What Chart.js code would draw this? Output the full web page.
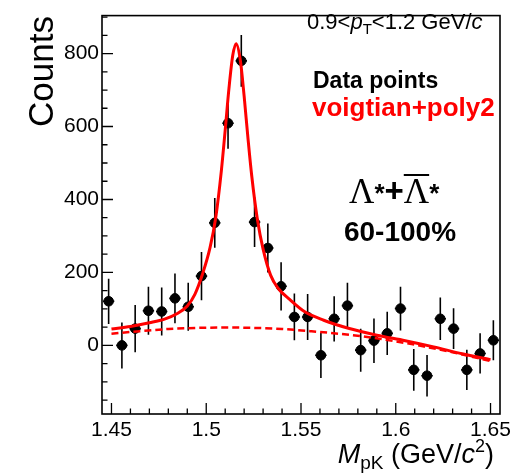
<!DOCTYPE html>
<html>
<head>
<meta charset="utf-8">
<script src="https://cdn.jsdelivr.net/npm/chart.js@4.4.1/dist/chart.umd.min.js"></script>
<style>
  html, body { margin: 0; padding: 0; background: #fff; }
  #wrap { width: 529px; height: 476px; }
</style>
</head>
<body>
<div id="wrap"><canvas id="massChart" width="529" height="476"></canvas></div>
<script>
// pK invariant mass histogram, bin centres in GeV/c^2
const binCenters = [1.4485, 1.4555, 1.4625, 1.4695, 1.4765, 1.4835, 1.4905, 1.4975, 1.5045, 1.5115,
                    1.5185, 1.5255, 1.5325, 1.5395, 1.5465, 1.5535, 1.5605, 1.5675, 1.5745, 1.5815,
                    1.5885, 1.5955, 1.6025, 1.6095, 1.6165, 1.6235, 1.6305, 1.6375, 1.6445, 1.6515];
const counts = [121, 0, 46, 95, 93, 129, 106, 190, 336, 609,
                780, 338, 267, 162, 78, 78, -27, 73, 109, -13,
                13, 33, 101, -67, -83, 73, 46, -67, -22, 14];
const countErr = [62, 63, 65, 66, 66, 68, 66, 66, 68, 70,
                  71, 68, 67, 66, 64, 63, 62, 62, 63, 59,
                  61, 59, 60, 57, 57, 58, 56, 55, 55, 55];
const binHalfWidth = 0.003;

// total fit (voigtian + poly2)
const fitX = [1.450, 1.460, 1.470, 1.478, 1.485, 1.490, 1.494, 1.498, 1.502, 1.505,
              1.508, 1.510, 1.512, 1.514, 1.5158, 1.518, 1.520, 1.522, 1.524, 1.527,
              1.530, 1.534, 1.538, 1.544, 1.552, 1.562, 1.575, 1.590, 1.605, 1.620,
              1.635, 1.650];
const fitY = [45, 52, 62, 72, 88, 108, 140, 195, 268, 350,
              480, 590, 705, 795, 827, 781, 683, 569, 465, 345,
              264, 192, 156, 126, 92, 69, 47, 28, 13, -4,
              -23, -39];

// residual background (poly2 part)
const bgX = [1.450, 1.465, 1.480, 1.495, 1.510, 1.525, 1.540, 1.555, 1.570, 1.585, 1.600, 1.615, 1.630, 1.650];
const bgY = [32, 39, 45, 48, 49, 48, 45, 39, 32, 23, 11, -3, -19, -43];

const xMajor = [1.45, 1.5, 1.55, 1.6, 1.65];
const yMajor = [0, 200, 400, 600, 800];

const pairs = (xs, ys) => xs.map((v, i) => ({ x: v, y: ys[i] }));

const SANS = '"Liberation Sans", Arial, Helvetica, sans-serif';
const SERIF = '"Liberation Serif", "Times New Roman", serif';

// vertical + small horizontal error bars under the markers
const errorBars = {
  id: 'errorBars',
  beforeDatasetsDraw(chart) {
    const { ctx, chartArea: a, scales: { x, y } } = chart;
    ctx.save();
    ctx.beginPath();
    ctx.rect(a.left, a.top, a.width, a.height);
    ctx.clip();
    ctx.strokeStyle = '#000';
    ctx.lineWidth = 1.6;
    binCenters.forEach((m, i) => {
      const px = x.getPixelForValue(m);
      const py = y.getPixelForValue(counts[i]);
      ctx.beginPath();
      ctx.moveTo(px, y.getPixelForValue(counts[i] - countErr[i]));
      ctx.lineTo(px, y.getPixelForValue(counts[i] + countErr[i]));
      ctx.moveTo(x.getPixelForValue(m - binHalfWidth), py);
      ctx.lineTo(x.getPixelForValue(m + binHalfWidth), py);
      ctx.stroke();
    });
    ctx.restore();
  }
};

// draws a run of text pieces left to right, returns end x
function drawRuns(ctx, x, y, runs, measureOnly) {
  let cx = x;
  runs.forEach(r => {
    ctx.font = r.font;
    if (!measureOnly) ctx.fillText(r.t, cx, y + (r.dy || 0));
    cx += ctx.measureText(r.t).width + (r.kern || 0);
  });
  return cx;
}

// frame, inward ticks and the annotations
const frameAndText = {
  id: 'frameAndText',
  afterDraw(chart) {
    const { ctx, chartArea: a, scales: { x, y } } = chart;
    ctx.save();
    ctx.strokeStyle = '#000';
    ctx.lineWidth = 1.6;
    ctx.strokeRect(a.left, a.top, a.width, a.height);

    ctx.lineWidth = 1.3;
    ctx.beginPath();
    for (let v = 1.45; v <= 1.6501; v += 0.01) {
      const major = xMajor.some(t => Math.abs(t - v) < 1e-6);
      const px = x.getPixelForValue(v);
      ctx.moveTo(px, a.bottom);
      ctx.lineTo(px, a.bottom - (major ? 11 : 5.5));
    }
    for (let v = -150; v <= 900; v += 50) {
      const major = yMajor.includes(v);
      const py = y.getPixelForValue(v);
      ctx.moveTo(a.left, py);
      ctx.lineTo(a.left + (major ? 11 : 5.5), py);
    }
    ctx.stroke();

    ctx.fillStyle = '#000';
    ctx.textBaseline = 'alphabetic';
    ctx.textAlign = 'left';

    // kinematic range
    drawRuns(ctx, 307, 29, [
      { t: '0.9<', font: '22px ' + SANS },
      { t: 'p', font: 'italic 22px ' + SANS },
      { t: 'T', font: '15px ' + SANS, dy: 5 },
      { t: '<1.2 GeV/', font: '22px ' + SANS },
      { t: 'c', font: 'italic 22px ' + SANS }
    ]);

    ctx.font = 'bold 23px ' + SANS;
    ctx.fillText('Data points', 313, 88);
    ctx.fillStyle = '#ff0000';
    ctx.font = 'bold 26px ' + SANS;
    ctx.fillText('voigtian+poly2', 312, 116);

    // particle label with anti-particle overline
    ctx.fillStyle = '#000';
    const lam = { t: '\u039B', font: '35px ' + SERIF };
    const star = { t: '*', font: 'bold 26px ' + SANS, dy: -1 };
    let cx = drawRuns(ctx, 349, 203, [lam, star, { t: '+', font: 'bold 33px ' + SANS, dy: -1 }]);
    ctx.font = lam.font;
    const lw = ctx.measureText(lam.t).width;
    ctx.lineWidth = 2;
    ctx.beginPath();
    ctx.moveTo(cx, 175);
    ctx.lineTo(cx + lw, 175);
    ctx.stroke();
    drawRuns(ctx, cx, 203, [lam, star]);

    ctx.font = 'bold 28px ' + SANS;
    ctx.textAlign = 'center';
    ctx.fillText('60-100%', 400, 241);

    // axis titles
    ctx.textAlign = 'left';
    const xTitle = [
      { t: 'M', font: 'italic 27px ' + SANS },
      { t: 'pK', font: '19px ' + SANS, dy: 6 },
      { t: ' (GeV/', font: '27px ' + SANS },
      { t: 'c', font: 'italic 27px ' + SANS },
      { t: '2', font: '18px ' + SANS, dy: -11 },
      { t: ')', font: '27px ' + SANS }
    ];
    const w = drawRuns(ctx, 0, 0, xTitle, true);
    drawRuns(ctx, 494 - w, 463, xTitle);

    ctx.translate(53, 127);
    ctx.rotate(-Math.PI / 2);
    ctx.font = '35px ' + SANS;
    ctx.fillText('Counts', 0, 0);
    ctx.restore();
  }
};

new Chart(document.getElementById('massChart'), {
  type: 'scatter',
  data: {
    datasets: [
      {
        type: 'line',
        label: 'voigtian+poly2',
        data: pairs(fitX, fitY),
        borderColor: '#ff0000',
        borderWidth: 3,
        pointRadius: 0,
        cubicInterpolationMode: 'monotone',
        fill: false,
        order: 1
      },
      {
        type: 'line',
        label: 'poly2',
        data: pairs(bgX, bgY),
        borderColor: '#ff0000',
        borderWidth: 2.5,
        borderDash: [7, 4],
        pointRadius: 0,
        cubicInterpolationMode: 'monotone',
        fill: false,
        order: 2
      },
      {
        label: 'Data points',
        data: pairs(binCenters, counts),
        backgroundColor: '#000',
        borderColor: '#000',
        borderWidth: 1,
        pointRadius: 4.8,
        order: 3
      }
    ]
  },
  options: {
    responsive: false,
    animation: false,
    layout: { padding: { top: 3, right: 29, left: 0, bottom: 0 } },
    plugins: { legend: { display: false }, tooltip: { enabled: false } },
    scales: {
      x: {
        type: 'linear',
        min: 1.445,
        max: 1.655,
        grid: { display: false, drawTicks: false },
        border: { display: false },
        afterFit(scale) { scale.height = 62; },
        ticks: {
          stepSize: 0.05,
          includeBounds: false,
          padding: 4,
          color: '#000',
          font: { family: SANS, size: 21 },
          maxRotation: 0,
          callback: v => String(Math.round(v * 100) / 100)
        }
      },
      y: {
        min: -188,
        max: 904,
        grid: { display: false, drawTicks: false },
        border: { display: false },
        afterFit(scale) { scale.width = 102; },
        ticks: {
          stepSize: 200,
          includeBounds: false,
          padding: 3,
          color: '#000',
          font: { family: SANS, size: 21 }
        }
      }
    }
  },
  plugins: [errorBars, frameAndText]
});
</script>
</body>
</html>
